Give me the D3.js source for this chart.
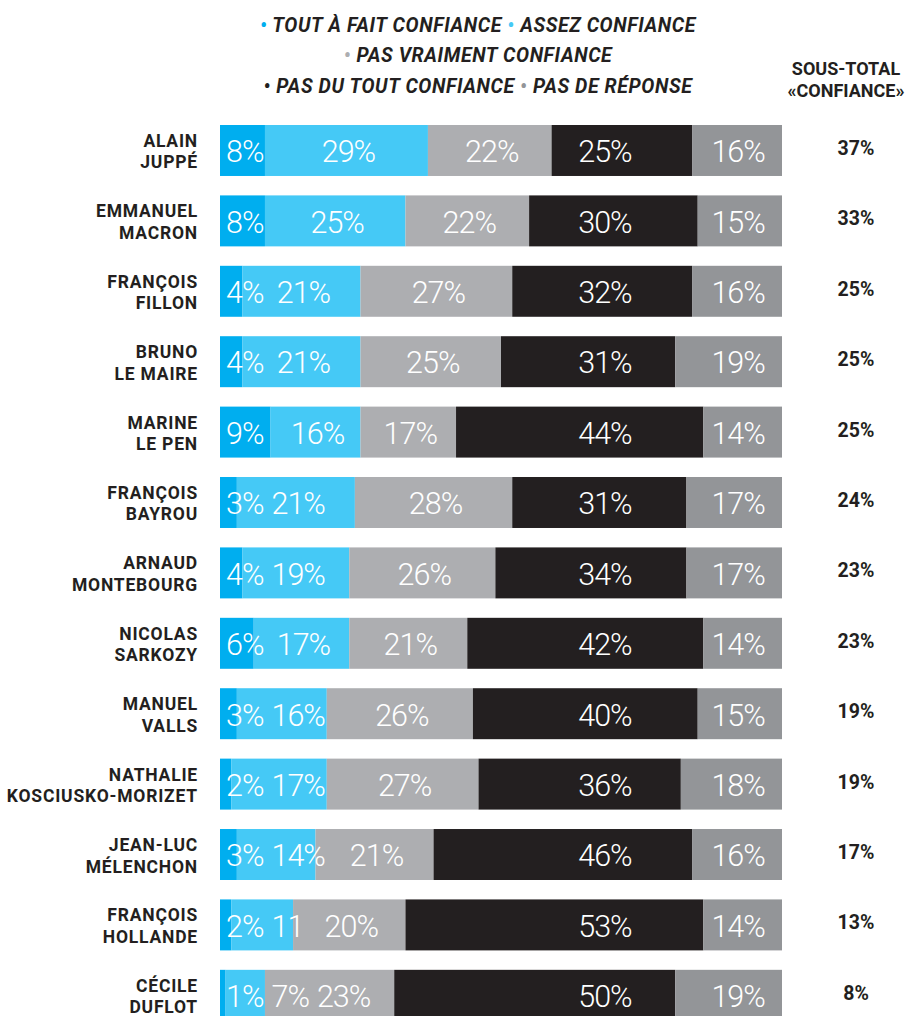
<!DOCTYPE html>
<html><head><meta charset="utf-8">
<script src="https://cdn.jsdelivr.net/npm/d3@7"></script>
<style>
html,body{margin:0;padding:0;background:#fff;}
svg{display:block;}
</style></head>
<body><svg id="chart" width="913" height="1016"></svg>
<script>
const categories = [
  ["ALAIN","JUPPÉ"],
  ["EMMANUEL","MACRON"],
  ["FRANÇOIS","FILLON"],
  ["BRUNO","LE MAIRE"],
  ["MARINE","LE PEN"],
  ["FRANÇOIS","BAYROU"],
  ["ARNAUD","MONTEBOURG"],
  ["NICOLAS","SARKOZY"],
  ["MANUEL","VALLS"],
  ["NATHALIE","KOSCIUSKO-MORIZET"],
  ["JEAN-LUC","MÉLENCHON"],
  ["FRANÇOIS","HOLLANDE"],
  ["CÉCILE","DUFLOT"]
];
const seriesNames = ["TOUT À FAIT CONFIANCE","ASSEZ CONFIANCE","PAS VRAIMENT CONFIANCE","PAS DU TOUT CONFIANCE","PAS DE RÉPONSE"];
const seriesColors = ["#00aeef","#45c9f6","#adaeb1","#231f20","#939598"];
const toutAFait   = [8,8,4,4,9,3,4,6,3,2,3,2,1];
const assez       = [29,25,21,21,16,21,19,17,16,17,14,11,7];
const pasVraiment = [22,22,27,25,17,28,26,21,26,27,21,20,23];
const pasDuTout   = [25,30,32,31,44,31,34,42,40,36,46,53,50];
const pasDeReponse= [16,15,16,19,14,17,17,14,15,18,16,14,19];
const sousTotal   = [37,33,25,25,25,24,23,23,19,19,17,13,8];
// value labels as printed (the original prints "11" without the % sign)
const valueLabels = [
  ["8%","29%","22%","25%","16%"],
  ["8%","25%","22%","30%","15%"],
  ["4%","21%","27%","32%","16%"],
  ["4%","21%","25%","31%","19%"],
  ["9%","16%","17%","44%","14%"],
  ["3%","21%","28%","31%","17%"],
  ["4%","19%","26%","34%","17%"],
  ["6%","17%","21%","42%","14%"],
  ["3%","16%","26%","40%","15%"],
  ["2%","17%","27%","36%","18%"],
  ["3%","14%","21%","46%","16%"],
  ["2%","11","20%","53%","14%"],
  ["1%","7%","23%","50%","19%"]
];
const legendLines = [[0,1],[2],[3,4]];
const subtotalHeader = ["SOUS-TOTAL","«CONFIANCE»"];

const series = [toutAFait, assez, pasVraiment, pasDuTout, pasDeReponse];
const rows = categories.map((c,i)=>({
  name:c, idx:i,
  values: series.map(s=>s[i]),
  labels: valueLabels[i],
  sub: sousTotal[i]
}));

const svg = d3.select("#chart");
const dark = "#231f20";

const x = d3.scaleLinear().domain([0,100]).range([220,782]);
const y = d3.scaleBand().domain(d3.range(categories.length))
  .range([125, 1020.8]).paddingInner(0.276).paddingOuter(0);

// Legend
const legG = svg.append("g");
const legendBaselines = [31.5, 62, 92.5];
legendLines.forEach((line,li)=>{
  const t = legG.append("text")
    .attr("x",478).attr("y",legendBaselines[li])
    .attr("text-anchor","middle")
    .style("font-family","Roboto, 'DejaVu Sans', sans-serif")
    .style("font-weight","700").style("font-style","italic")
    .style("font-size","19.5px").style("letter-spacing","0.6px");
  line.forEach((si,k)=>{
    t.append("tspan").attr("fill",seriesColors[si]).text((k>0?"  ":"")+"• ");
    t.append("tspan").attr("fill",dark).text(seriesNames[si]);
  });
});

// Subtotal header
svg.append("g").selectAll("text").data(subtotalHeader).join("text")
  .attr("x",846).attr("y",(d,i)=>75+i*22)
  .attr("text-anchor","middle")
  .attr("fill",dark)
  .style("font-family","Roboto, sans-serif").style("font-weight","700")
  .style("font-size","18px")
  .text(d=>d);

const rowG = svg.append("g").selectAll("g").data(rows).join("g")
  .attr("transform",d=>`translate(0,${y(d.idx)})`);
const bw = y.bandwidth();

// names
rowG.each(function(d){
  const g = d3.select(this);
  const cy = bw/2;
  g.selectAll("text.name").data(d.name).join("text").attr("class","name")
    .attr("x",198).attr("y",(t,i)=> cy - 3.5 + i*21.5)
    .attr("text-anchor","end").attr("fill",dark)
    .style("font-family","Roboto, sans-serif").style("font-weight","700")
    .style("font-size","17.5px").style("letter-spacing","0.8px")
    .text(t=>t);
});

// segments
rowG.each(function(d){
  const g = d3.select(this);
  let acc = 0;
  const segs = d.values.map((v,i)=>{const s={i,x0:x(acc),x1:x(acc+v),v,label:d.labels[i]}; acc+=v; return s;});
  g.selectAll("rect").data(segs).join("rect")
    .attr("x",s=>s.x0).attr("width",s=>s.x1-s.x0)
    .attr("y",0).attr("height",bw)
    .attr("fill",s=>seriesColors[s.i]);
  // labels
  let prevEnd = -Infinity;
  segs.forEach(s=>{
    const t = g.append("text")
      .attr("y", bw/2 + 11.8)
      .attr("fill","#ffffff")
      .style("font-family","Roboto, sans-serif").style("font-weight","300")
      .style("font-size","30.5px").style("letter-spacing","-1px")
      .text(s.label);
    const w = t.node().getComputedTextLength();
    let start;
    if (s.i===0) start = x(0)+6;
    else if (s.i===3) start = x(68.5) - w/2;
    else if (s.i===4) start = x(92.2) - w/2;
    else start = Math.max((s.x0+s.x1)/2 - w/2 + 2, prevEnd + 8);
    t.attr("x",start);
    prevEnd = start + w;
  });
  // subtotal
  g.append("text").attr("x",856).attr("y",bw/2+4.5)
    .attr("text-anchor","middle").attr("fill",dark)
    .style("font-family","Roboto, sans-serif").style("font-weight","700")
    .style("font-size","19.5px")
    .text(d.sub+"%");
});
</script>
</body></html>
